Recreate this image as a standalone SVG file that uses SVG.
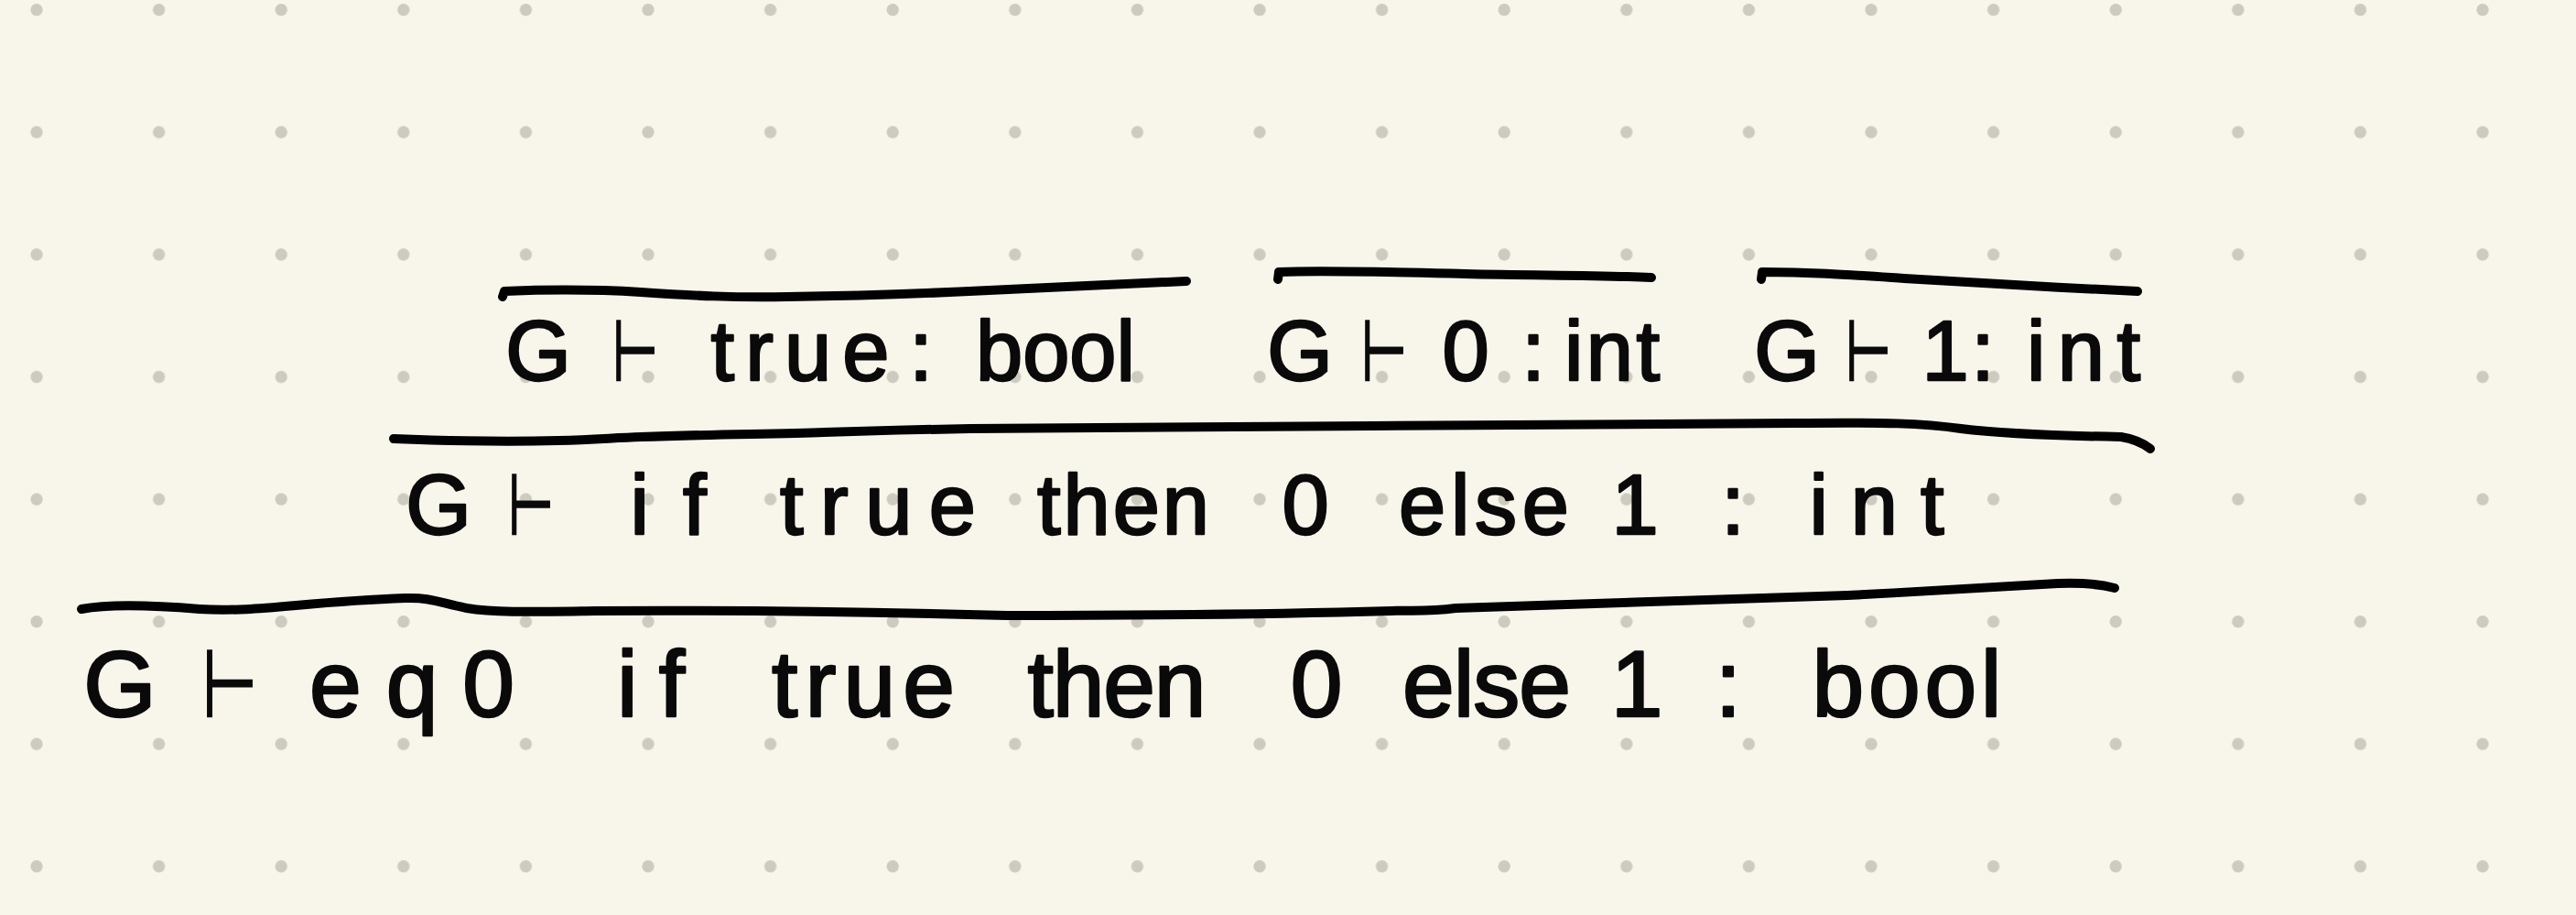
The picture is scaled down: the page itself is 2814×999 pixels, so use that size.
<svg xmlns="http://www.w3.org/2000/svg" width="2814" height="999" viewBox="0 0 2814 999">
<defs>
<pattern id="dots" x="0" y="0" width="133.6" height="133.6" patternUnits="userSpaceOnUse">
<circle cx="40" cy="10.7" r="6.7" fill="#cdcbbf"/>
</pattern>
<style>
.t{font-family:"Liberation Sans","DejaVu Sans",sans-serif;fill:#0a0a0a;stroke:#0a0a0a;stroke-width:2.5px;stroke-linejoin:round;text-anchor:middle}
.r1{font-size:92px}
.r3{font-size:102px}
.ts{font-family:"DejaVu Sans",sans-serif;fill:#0a0a0a;stroke:#0a0a0a;stroke-width:2.5px;text-anchor:middle}
.bar{fill:none;stroke:#000;stroke-width:10;stroke-linecap:round;stroke-linejoin:round}
</style>
</defs>
<rect width="2814" height="999" fill="#f8f6ea"/>
<rect width="2814" height="999" fill="url(#dots)"/>

<g id="rules">
<path class="bar" d="M549 324 L551 318 C600 316 650 316 700 319 C760 323 800 325 860 324 C940 323 1000 321 1080 317 C1160 313 1230 310 1296 307"/>
<path class="bar" d="M1396 305 L1397 297 C1450 295 1520 297 1600 299 C1680 301 1740 300 1804 303"/>
<path class="bar" d="M1924 305 L1925 297 C1980 297 2020 300 2080 304 C2160 309 2250 314 2335 318"/>
<path class="bar" d="M430 479 C480 481 540 483 610 481 C650 480 670 478 700 477 C780 474 850 474 900 472 C960 470 1000 469 1060 468 C1200 466 1400 467 1500 465 C1700 464 1850 462 1960 462 C2060 461 2100 462 2142 468 C2190 474 2260 476 2317 477 C2330 479 2340 483 2349 490"/>
<path class="bar" d="M89 665 C120 659 170 661 218 665 C280 669 330 657 443 653 C470 652 480 658 510 664 C540 669 580 668 650 667 C800 666 950 668 1100 672 C1300 672 1450 669 1520 667 C1545 666 1560 668 1590 664 C1700 660 1850 655 2018 650 C2100 646 2190 640 2248 637 C2275 636 2295 638 2310 642"/>
</g>

<g id="judgment-true">
<text class="t r1" x="588" y="415">G</text>
<text class="ts" x="694" y="415" font-size="92" textLength="50" lengthAdjust="spacingAndGlyphs">⊢</text>
<text class="t r1" x="874" y="415" textLength="195" lengthAdjust="spacing">true</text>
<text class="t r1" x="1006" y="415">:</text>
<text class="t r1" x="1153" y="415" textLength="174" lengthAdjust="spacing">bool</text>
</g>

<g id="judgment-zero">
<text class="t r1" x="1420" y="415">G</text>
<text class="ts" x="1512" y="415" font-size="92" textLength="50" lengthAdjust="spacingAndGlyphs">⊢</text>
<text class="t r1" x="1601" y="415">0</text>
<text class="t r1" x="1675" y="415">:</text>
<text class="t r1" x="1761" y="415" textLength="104" lengthAdjust="spacing">int</text>
</g>

<g id="judgment-one">
<text class="t r1" x="1952" y="415">G</text>
<text class="ts" x="2041" y="415" font-size="92" textLength="50" lengthAdjust="spacingAndGlyphs">⊢</text>
<text class="t r1" x="2125" y="415">1</text>
<text class="t r1" x="2166" y="415">:</text>
<text class="t r1" x="2276" y="415" textLength="124" lengthAdjust="spacing">int</text>
</g>

<g id="judgment-if">
<text class="t r1" x="479" y="583">G</text>
<text class="ts" x="580" y="583" font-size="92" textLength="50" lengthAdjust="spacingAndGlyphs">⊢</text>
<text class="t r1" x="730" y="583" textLength="83" lengthAdjust="spacing">if</text>
<text class="t r1" x="959" y="583" textLength="214" lengthAdjust="spacing">true</text>
<text class="t r1" x="1227" y="583" textLength="188" lengthAdjust="spacing">then</text>
<text class="t r1" x="1426" y="583">0</text>
<text class="t r1" x="1621" y="583" textLength="186" lengthAdjust="spacing">else</text>
<text class="t r1" x="1786" y="583">1</text>
<text class="t r1" x="1893" y="583">:</text>
<text class="t r1" x="2050" y="583" textLength="147" lengthAdjust="spacing">int</text>
</g>

<g id="judgment-eq0">
<text class="t r3" x="131" y="782">G</text>
<text class="ts" x="251" y="782" font-size="102" textLength="60" lengthAdjust="spacingAndGlyphs">⊢</text>
<text class="t r3" x="450" y="782" textLength="224" lengthAdjust="spacing">eq0</text>
<text class="t r3" x="711" y="782" textLength="74" lengthAdjust="spacing">if</text>
<text class="t r3" x="943" y="782" textLength="200" lengthAdjust="spacing">true</text>
<text class="t r3" x="1220" y="782" textLength="195" lengthAdjust="spacing">then</text>
<text class="t r3" x="1438" y="782">0</text>
<text class="t r3" x="1624" y="782" textLength="184" lengthAdjust="spacing">else</text>
<text class="t r3" x="1788" y="782">1</text>
<text class="t r3" x="1888" y="782">:</text>
<text class="t r3" x="2083" y="782" textLength="207" lengthAdjust="spacing">bool</text>
</g>
</svg>
